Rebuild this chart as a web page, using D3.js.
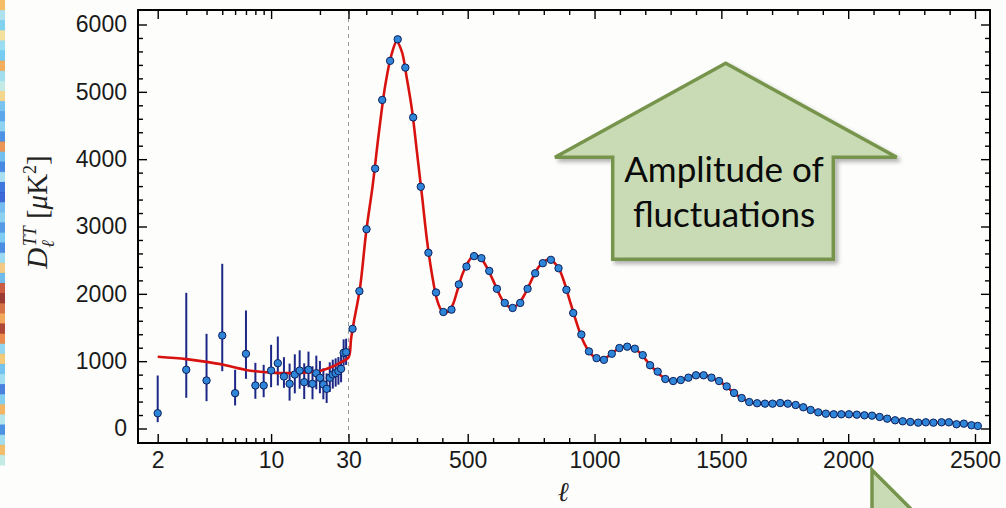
<!DOCTYPE html>
<html>
<head>
<meta charset="utf-8">
<script src="https://cdn.jsdelivr.net/npm/d3@7/dist/d3.min.js"></script>
<style>
  html, body { margin: 0; padding: 0; background: #fdfefb; }
  svg { display: block; }
</style>
</head>
<body>
<div id="chart"></div>
<script>
// low multipoles, one point per l
const lowL = [2,3,4,5,6,7,8,9,10,11,12,13,14,15,16,17,18,19,20,21,22,23,24,25,26,27,28,29];
const lowD = [227,872,713,1381,525,1109,639,639,861,970,772,664,802,861,688,872,664,822,753,654,589,753,802,822,851,886,1124,1134];
const lowMinus = [133,416,307,530,183,371,198,174,248,331,168,250,280,270,250,260,230,240,230,220,210,210,210,200,200,200,190,190];
const lowPlus = [560,1143,693,1065,347,644,336,307,382,396,287,300,300,300,280,270,260,260,250,240,230,230,220,220,210,210,200,200];

// binned high multipoles
const highL = [46,73,101,135,163,194,224,254,285,315,345,375,404,436,465,495,525,554,585,615,646,677,707,736,766,796,828,858,889,916,948,978,1008,1037,1068,1098,1129,1159,1190,1219,1249,1279,1310,1340,1370,1400,1430,1461,1491,1521,1550,1580,1610,1641,1672,1702,1732,1762,1793,1823,1852,1882,1912,1943,1973,2003,2034,2064,2094,2124,2154,2185,2215,2245,2276,2306,2336,2368,2397,2427,2456,2486,2511];
const highD = [1480,2040,2960,3860,4880,5460,5780,5360,4620,3590,2610,2020,1730,1765,2140,2405,2560,2530,2340,2075,1865,1790,1865,2075,2305,2455,2505,2380,2060,1715,1395,1145,1045,1020,1110,1195,1215,1185,1090,940,845,735,705,720,755,790,790,755,705,625,528,452,393,375,369,369,378,369,349,315,275,240,220,211,211,211,205,196,191,171,146,122,107,97,87,92,87,92,92,63,72,48,38];

// best-fit model (red line)
const modelL = [2,3,4,5,6,7,8,10,13,16,20,24,27,30,40,50,75,100,125,150,175,200,220,240,260,280,300,320,340,360,380,400,420,440,460,480,500,520,540,560,580,600,620,640,660,680,700,720,740,760,780,800,820,840,860,880,900,920,940,960,980,1000,1020,1040,1060,1080,1100,1120,1140,1160,1180,1200,1220,1240,1260,1280,1300,1320,1340,1360,1380,1400,1420,1440,1460,1480,1500,1520,1540,1560,1580,1600,1620,1640,1660,1680,1700,1720,1740,1760,1780,1800,1820,1840,1860,1880,1900,1920,1940,1960,1980,2000,2050,2100,2150,2200,2250,2300,2350,2400,2450,2500];
const modelD = [1065,1030,990,950,905,870,850,830,822,830,855,920,985,1055,1330,1560,2080,2930,3600,4400,5100,5560,5745,5600,5200,4740,4100,3450,2780,2270,1900,1740,1730,1830,2060,2300,2460,2555,2560,2490,2360,2200,2030,1890,1815,1800,1850,1960,2110,2270,2400,2480,2510,2470,2370,2180,1930,1680,1450,1260,1135,1060,1030,1040,1090,1150,1200,1215,1205,1175,1120,1030,940,860,790,740,715,710,720,745,775,795,800,790,760,720,680,625,560,500,450,410,387,375,372,372,373,376,375,370,358,343,320,292,268,245,230,220,213,210,210,210,202,188,150,115,98,92,90,85,70,55];

const xMajorLog = [2,10,30];
const xMinorLog = [3,4,5,6,7,8,9,20];
const xMajorLin = [500,1000,1500,2000,2500];
const xMinorLin = [100,200,300,400,600,700,800,900,1100,1200,1300,1400,1600,1700,1800,1900,2100,2200,2300,2400];
const yMajor = [0,1000,2000,3000,4000,5000,6000];
const yMinor = [200,400,600,800,1200,1400,1600,1800,2200,2400,2600,2800,3200,3400,3600,3800,4200,4400,4600,4800,5200,5400,5600,5800];

// bits of the CMB map peeking in at the left edge
const stripColors = ['#f3b24e','#9fdcea','#6cc9ec','#f2dc8c','#88d6ee','#5fc3ee','#f0a040','#8fd8ec','#b9e6e0','#f3cf7a','#62b8ee','#3f97e8','#7ccbef','#2f7fe0','#e8843a','#5ab4ec','#2a74de','#9bd9ee','#1f5fd8','#1b4fd0','#5fb0ec','#79c9ef','#3a8ae4','#69c2ee','#2e78de','#8bd3ee','#f0c070','#58aee9','#c04020','#8a1a10','#d05a28','#f09a40','#a02818','#e87830','#7fd0ee','#f2c060','#5cb8ec','#90d8ee','#2a6ad8','#6ec6ee','#f0a848','#a8e0ea','#2f7fe0','#8fd8ec','#f0b050','#b9e6e0'];

const W = 1006, H = 508;
const frame = { left: 138, right: 990, top: 10, bottom: 443 };

const svg = d3.select('#chart').append('svg')
    .attr('width', W)
    .attr('height', H);

const defs = svg.append('defs');
const shadow = defs.append('filter').attr('id', 'shadow')
    .attr('x', '-10%').attr('y', '-10%').attr('width', '130%').attr('height', '130%');
shadow.append('feDropShadow')
    .attr('dx', 3).attr('dy', 3).attr('stdDeviation', 2)
    .attr('flood-color', '#000').attr('flood-opacity', 0.3);

// left strip
const stripH = 465 / stripColors.length;
svg.selectAll('.strip')
    .data(stripColors)
    .enter().append('rect')
    .attr('class', 'strip')
    .attr('x', 0)
    .attr('y', (d, i) => i * stripH)
    .attr('width', 5)
    .attr('height', stripH + 0.5)
    .attr('fill', d => d)
    .attr('opacity', 0.85);

// scales: log below l=30, linear above
const xLog = d3.scaleLog().domain([2, 30]).range([157.7, 348.5]);
const xLin = d3.scaleLinear().domain([30, 2500]).range([348.5, 975]);
const x = l => l <= 30 ? xLog(l) : xLin(l);
const y = d3.scaleLinear().domain([0, 6000]).range([428.5, 24.5]);

const font = '"Liberation Sans", Arial, sans-serif';

// dashed divider at l = 30
svg.append('line')
    .attr('x1', x(30)).attr('x2', x(30))
    .attr('y1', frame.top).attr('y2', frame.bottom)
    .attr('stroke', '#9a9a9a')
    .attr('stroke-width', 1)
    .attr('stroke-dasharray', '4,4');

// error bars for low l
svg.selectAll('.err')
    .data(lowL)
    .enter().append('line')
    .attr('class', 'err')
    .attr('x1', d => x(d)).attr('x2', d => x(d))
    .attr('y1', (d, i) => y(lowD[i] + lowPlus[i]))
    .attr('y2', (d, i) => y(lowD[i] - lowMinus[i]))
    .attr('stroke', '#1c2787')
    .attr('stroke-width', 2);

// model
const model = modelL.map((l, i) => [l, modelD[i]]);
svg.append('path')
    .datum(model)
    .attr('fill', 'none')
    .attr('stroke', '#d8120f')
    .attr('stroke-width', 2.6)
    .attr('d', d3.line().x(d => x(d[0])).y(d => y(d[1])).curve(d3.curveCatmullRom));

// points
const pts = lowL.map((l, i) => [l, lowD[i]]).concat(highL.map((l, i) => [l, highD[i]]));
svg.selectAll('.pt')
    .data(pts)
    .enter().append('circle')
    .attr('class', 'pt')
    .attr('cx', d => x(d[0]))
    .attr('cy', d => y(d[1]))
    .attr('r', 3.7)
    .attr('fill', '#2f86d8')
    .attr('stroke', '#0d1f5c')
    .attr('stroke-width', 1);

// axes
function styleAxis(g, withText) {
    g.select('.domain').remove();
    g.selectAll('.tick line').attr('stroke', '#000').attr('stroke-width', 1.4);
    if (withText) {
        g.selectAll('.tick text')
            .attr('font-family', font)
            .attr('font-size', 23)
            .attr('fill', '#1a1a1a');
    } else {
        g.selectAll('.tick text').remove();
    }
}

function xAxes(scale, major, minor) {
    const fmt = d3.format('d');
    svg.append('g').attr('transform', `translate(0,${frame.bottom})`)
        .call(d3.axisBottom(scale).tickValues(major).tickSize(-9).tickPadding(9).tickFormat(fmt))
        .call(g => styleAxis(g, true));
    svg.append('g').attr('transform', `translate(0,${frame.bottom})`)
        .call(d3.axisBottom(scale).tickValues(minor).tickSize(-5))
        .call(g => styleAxis(g, false));
    svg.append('g').attr('transform', `translate(0,${frame.top})`)
        .call(d3.axisTop(scale).tickValues(major).tickSize(-9))
        .call(g => styleAxis(g, false));
    svg.append('g').attr('transform', `translate(0,${frame.top})`)
        .call(d3.axisTop(scale).tickValues(minor).tickSize(-5))
        .call(g => styleAxis(g, false));
}
xAxes(xLog, xMajorLog, xMinorLog);
xAxes(xLin, xMajorLin, xMinorLin);

svg.append('g').attr('transform', `translate(${frame.left},0)`)
    .call(d3.axisLeft(y).tickValues(yMajor).tickSize(-9).tickPadding(11).tickFormat(d3.format('d')))
    .call(g => styleAxis(g, true));
svg.append('g').attr('transform', `translate(${frame.left},0)`)
    .call(d3.axisLeft(y).tickValues(yMinor).tickSize(-5))
    .call(g => styleAxis(g, false));
svg.append('g').attr('transform', `translate(${frame.right},0)`)
    .call(d3.axisRight(y).tickValues(yMajor).tickSize(-9))
    .call(g => styleAxis(g, false));
svg.append('g').attr('transform', `translate(${frame.right},0)`)
    .call(d3.axisRight(y).tickValues(yMinor).tickSize(-5))
    .call(g => styleAxis(g, false));

// frame
svg.append('rect')
    .attr('x', frame.left).attr('y', frame.top)
    .attr('width', frame.right - frame.left)
    .attr('height', frame.bottom - frame.top)
    .attr('fill', 'none')
    .attr('stroke', '#000')
    .attr('stroke-width', 2);

// axis titles
const serif = '"Liberation Serif", "DejaVu Serif", serif';
svg.append('text')
    .attr('x', 563).attr('y', 501)
    .attr('text-anchor', 'middle')
    .attr('font-family', serif)
    .attr('font-style', 'italic')
    .attr('font-size', 27)
    .attr('fill', '#222')
    .text('ℓ');

const yl = svg.append('text')
    .attr('transform', 'translate(47,212) rotate(-90)')
    .attr('text-anchor', 'middle')
    .attr('font-family', serif)
    .attr('font-size', 29)
    .attr('fill', '#222');
yl.append('tspan').attr('font-style', 'italic').text('D');
yl.append('tspan').attr('font-style', 'italic').attr('font-size', 18).attr('dy', 7).text('ℓ');
yl.append('tspan').attr('font-style', 'italic').attr('font-size', 18).attr('dx', -6).attr('dy', -18).text('TT');
yl.append('tspan').attr('dy', 11).text(' [');
yl.append('tspan').attr('font-style', 'italic').text('μ');
yl.append('tspan').text('K');
yl.append('tspan').attr('font-size', 18).attr('dy', -11).text('2');
yl.append('tspan').attr('dy', 11).text(']');

// "Amplitude of fluctuations" arrow
const arrow = [[725.7,63.3],[896.7,157.3],[833.3,157.3],[833.3,259.3],[612.7,259.3],[612.7,157.3],[555,157.3]];
svg.append('polygon')
    .attr('points', arrow.map(p => p.join(',')).join(' '))
    .attr('fill', '#c9dbb4')
    .attr('stroke', '#76944b')
    .attr('stroke-width', 3.5)
    .attr('stroke-linejoin', 'miter')
    .attr('filter', 'url(#shadow)');
const labelFont = 'Lato, "Open Sans", sans-serif';
svg.append('text')
    .attr('x', 724).attr('y', 182)
    .attr('text-anchor', 'middle')
    .attr('font-family', labelFont)
    .attr('font-size', 35)
    .attr('fill', '#0a0a0a')
    .text('Amplitude of');
svg.append('text')
    .attr('x', 724).attr('y', 227)
    .attr('text-anchor', 'middle')
    .attr('font-family', labelFont)
    .attr('font-size', 35)
    .attr('fill', '#0a0a0a')
    .text('fluctuations');

// second arrow, mostly off the bottom edge
svg.append('polygon')
    .attr('points', '872,470 872,540 942,540')
    .attr('fill', '#c9dbb4')
    .attr('stroke', '#76944b')
    .attr('stroke-width', 3.5);
</script>
</body>
</html>
